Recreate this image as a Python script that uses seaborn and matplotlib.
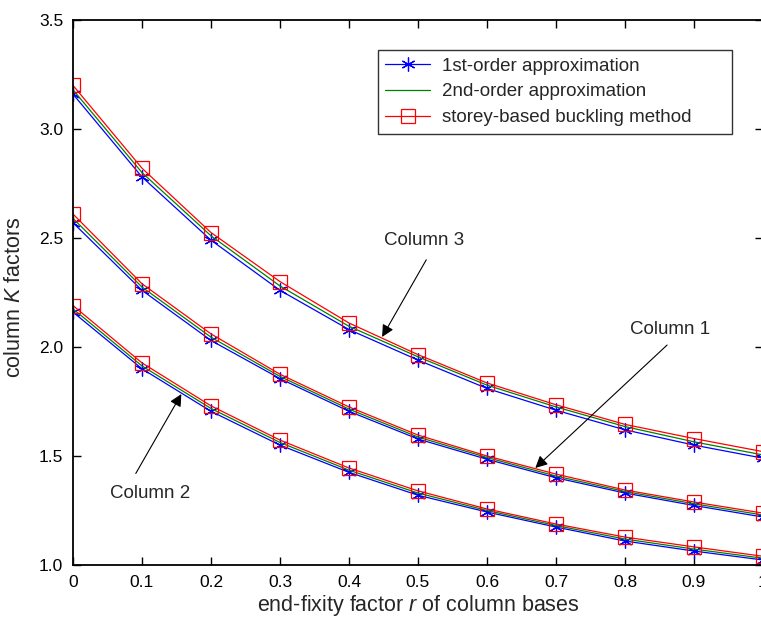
import matplotlib
matplotlib.use("Agg")
import matplotlib.pyplot as plt
import seaborn as sns
import pandas as pd

# end-fixity factor r
r = [0.0, 0.1, 0.2, 0.3, 0.4, 0.5, 0.6, 0.7, 0.8, 0.9, 1.0]

# column 3 (top curves)
col3_first = [3.16, 2.78, 2.49, 2.26, 2.08, 1.94, 1.81, 1.71, 1.62, 1.55, 1.49]
col3_second = [3.18, 2.80, 2.51, 2.28, 2.095, 1.955, 1.825, 1.725, 1.635, 1.565, 1.505]
col3_storey = [3.20, 2.82, 2.525, 2.30, 2.11, 1.965, 1.835, 1.735, 1.645, 1.58, 1.52]

# column 1 (middle curves)
col1_first = [2.57, 2.26, 2.03, 1.855, 1.705, 1.578, 1.485, 1.40, 1.33, 1.273, 1.22]
col1_second = [2.59, 2.275, 2.045, 1.865, 1.715, 1.587, 1.493, 1.408, 1.337, 1.281, 1.229]
col1_storey = [2.61, 2.29, 2.06, 1.875, 1.725, 1.596, 1.50, 1.417, 1.344, 1.289, 1.238]

# column 2 (bottom curves)
col2_first = [2.16, 1.90, 1.705, 1.55, 1.425, 1.32, 1.243, 1.174, 1.11, 1.064, 1.023]
col2_second = [2.175, 1.913, 1.718, 1.562, 1.435, 1.33, 1.25, 1.181, 1.119, 1.073, 1.031]
col2_storey = [2.19, 1.927, 1.73, 1.573, 1.445, 1.34, 1.257, 1.188, 1.128, 1.083, 1.04]

sns.set_style("ticks")
plt.rcParams["font.family"] = ["Liberation Sans", "DejaVu Sans"]
plt.rcParams["mathtext.fontset"] = "custom"
plt.rcParams["mathtext.rm"] = "Liberation Sans"
plt.rcParams["mathtext.it"] = "Liberation Sans:italic"

fig = plt.figure(figsize=(7.61, 6.2), dpi=100)
ax = fig.add_axes([73 / 761, 55 / 620, 690 / 761, 545 / 620])

series = [
    ("1st-order approximation", "#0000ff", (6, 2, 0), 10, "#0000ff", [col3_first, col1_first, col2_first]),
    ("2nd-order approximation", "#008000", None, 0, "none", [col3_second, col1_second, col2_second]),
    ("storey-based buckling method", "#ff0000", "s", 10, "none", [col3_storey, col1_storey, col2_storey]),
]

for label, color, marker, ms, mfc, curves in series:
    for i, vals in enumerate(curves):
        df = pd.DataFrame({"r": r, "K": vals})
        sns.lineplot(data=df, x="r", y="K", ax=ax, color=color, lw=0.9,
                     marker=marker, markersize=ms, markerfacecolor=mfc,
                     markeredgecolor=color, markeredgewidth=0.9,
                     label=label if i == 0 else None)

ax.set_xlim(0, 1)
ax.set_ylim(1.0, 3.5)
ax.set_xticks([0, 0.1, 0.2, 0.3, 0.4, 0.5, 0.6, 0.7, 0.8, 0.9, 1.0])
ax.set_xticklabels(["0", "0.1", "0.2", "0.3", "0.4", "0.5", "0.6", "0.7", "0.8", "0.9", "1"])
ax.set_yticks([1.0, 1.5, 2.0, 2.5, 3.0, 3.5])
ax.set_yticklabels(["1.0", "1.5", "2.0", "2.5", "3.0", "3.5"])
ax.tick_params(direction="in", length=6, width=1, top=True, right=True,
               labelsize=12.5, pad=7, color="black", labelcolor="black")
for sp in ax.spines.values():
    sp.set_linewidth(1.3)
    sp.set_color("black")

ax.set_xlabel("end-fixity factor $r$ of column bases", fontsize=15.5, labelpad=2)
ax.set_ylabel("column $K$ factors", fontsize=15.5)
ax.yaxis.set_label_coords(-0.069, 0.491)

leg = ax.legend(loc="upper left", bbox_to_anchor=(0.442, 0.945, 354 / 690, 0),
                mode="expand", borderaxespad=0,
                fontsize=13.5, frameon=True, fancybox=False, edgecolor="black",
                handlelength=2.4, handletextpad=0.64, labelspacing=0.46, borderpad=0.4)
leg.get_frame().set_linewidth(1.0)

arrow = dict(arrowstyle="-|>", color="black", lw=0.8, mutation_scale=18, shrinkA=0, shrinkB=0)
ax.annotate("", xy=(0.448, 2.046), xytext=(0.512, 2.40), arrowprops=arrow)
ax.text(0.509, 2.49, "Column 3", fontsize=13.5, ha="center", va="center")
ax.annotate("", xy=(0.670, 1.445), xytext=(0.861, 2.009), arrowprops=arrow)
ax.text(0.866, 2.078, "Column 1", fontsize=13.5, ha="center", va="center")
ax.annotate("", xy=(0.157, 1.784), xytext=(0.091, 1.42), arrowprops=arrow)
ax.text(0.112, 1.33, "Column 2", fontsize=13.5, ha="center", va="center")

fig.savefig("out.png", dpi=100)
